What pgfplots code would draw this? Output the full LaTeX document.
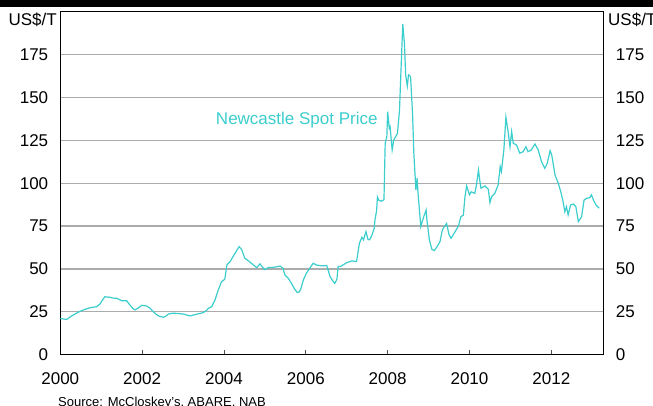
\documentclass[border=0pt]{standalone}
\usepackage{pgfplots}
\pgfplotsset{compat=1.18}
\usepackage{fontspec}
\setmainfont{Liberation Sans}
\definecolor{coal}{RGB}{60,205,205}
\definecolor{gridc}{RGB}{172,172,172}
\pgfplotstableread{
x y
2000.00 21.2
2000.08 20.8
2000.16 20.6
2000.24 22.0
2000.32 23.2
2000.44 24.8
2000.56 26.1
2000.65 26.8
2000.73 27.4
2000.89 28.0
2000.97 29.6
2001.05 32.5
2001.09 33.8
2001.21 33.5
2001.30 33.0
2001.38 32.9
2001.50 31.5
2001.62 31.5
2001.70 29.0
2001.77 27.0
2001.83 26.1
2001.92 27.5
2001.99 28.8
2002.11 28.4
2002.20 27.0
2002.27 25.1
2002.33 23.8
2002.40 22.6
2002.52 21.8
2002.58 22.5
2002.64 23.7
2002.74 24.2
2002.84 24.1
2003.01 23.7
2003.17 22.6
2003.33 23.6
2003.49 24.5
2003.58 26.0
2003.62 27.1
2003.70 28.0
2003.78 31.9
2003.86 37.7
2003.94 42.6
2004.02 44.0
2004.05 49.0
2004.07 52.3
2004.15 54.3
2004.23 57.6
2004.31 60.7
2004.37 63.0
2004.43 61.5
2004.51 56.2
2004.60 54.7
2004.66 53.5
2004.72 52.3
2004.80 50.8
2004.88 53.0
2004.94 51.0
2005.00 49.6
2005.08 50.8
2005.13 50.8
2005.21 51.0
2005.30 51.3
2005.37 51.7
2005.44 50.5
2005.49 46.5
2005.57 44.6
2005.65 41.6
2005.72 38.5
2005.79 36.3
2005.84 36.6
2005.88 38.5
2005.94 43.6
2006.02 47.8
2006.08 49.8
2006.14 52.0
2006.18 53.3
2006.26 52.3
2006.39 51.8
2006.51 52.0
2006.55 49.0
2006.59 45.7
2006.66 43.0
2006.71 41.6
2006.76 44.0
2006.79 51.4
2006.84 51.4
2006.92 52.5
2007.00 53.7
2007.08 54.3
2007.12 54.7
2007.24 54.3
2007.31 65.0
2007.37 68.5
2007.41 67.0
2007.47 71.8
2007.52 67.2
2007.56 67.0
2007.62 70.0
2007.67 73.5
2007.69 78.6
2007.73 84.0
2007.75 92.0
2007.78 90.2
2007.84 89.5
2007.91 90.4
2007.94 123.3
2007.98 127.2
2008.00 141.8
2008.04 132.1
2008.06 133.0
2008.11 119.4
2008.15 125.2
2008.24 129.1
2008.29 142.7
2008.32 162.2
2008.37 192.9
2008.41 181.6
2008.44 163.2
2008.48 156.7
2008.51 163.2
2008.56 162.2
2008.61 139.8
2008.64 117.5
2008.69 96.1
2008.72 102.9
2008.74 95.1
2008.81 74.7
2008.87 79.6
2008.94 84.4
2008.96 78.6
2009.02 66.9
2009.08 61.5
2009.14 60.7
2009.20 62.7
2009.28 66.0
2009.33 72.0
2009.36 73.7
2009.44 76.6
2009.50 70.0
2009.55 67.9
2009.65 71.8
2009.73 75.0
2009.79 80.5
2009.85 81.4
2009.89 92.2
2009.93 98.4
2010.00 93.2
2010.04 95.0
2010.13 94.1
2010.17 99.0
2010.22 107.7
2010.25 101.9
2010.28 97.1
2010.38 98.4
2010.46 96.5
2010.50 88.7
2010.54 92.2
2010.62 94.1
2010.70 99.0
2010.75 109.7
2010.78 106.8
2010.84 119.4
2010.89 138.5
2010.95 129.1
2010.99 121.3
2011.03 130.1
2011.07 123.3
2011.15 122.3
2011.23 117.5
2011.31 118.4
2011.38 121.3
2011.43 118.4
2011.51 119.4
2011.60 122.9
2011.68 119.4
2011.76 112.6
2011.84 108.7
2011.90 111.6
2011.97 119.0
2012.01 116.5
2012.09 104.8
2012.17 100.0
2012.23 95.1
2012.28 90.2
2012.33 83.4
2012.37 86.3
2012.41 81.5
2012.47 87.3
2012.54 87.9
2012.60 86.3
2012.66 77.6
2012.74 80.5
2012.80 90.2
2012.86 91.2
2012.94 91.6
2012.98 93.2
2013.03 90.2
2013.09 87.3
2013.17 85.4
}\coaldata
\begin{document}
\begin{tikzpicture}[x=1pt,y=1pt]
\useasboundingbox (0,0) rectangle (653,406);
\fill[black] (0,399) rectangle (653,406);
\begin{axis}[
  at={(60.3pt,51.3pt)}, anchor=south west,
  scale only axis, width=543.4pt, height=342.9pt,
  xmin=2000, xmax=2013.28, ymin=0, ymax=200,
  xtick={2000,2002,2004,2006,2008,2010,2012},
  xticklabels={2000,2002,2004,2006,2008,2010,2012},
  ytick={0,25,50,75,100,125,150,175},
  xtick pos=bottom, tick align=inside,
  major tick length=5pt,
  x tick style={color=black!70, line width=0.9pt},
  y tick style={draw=none},
  ymajorgrids, grid style={gridc, line width=1.3pt},
  axis line style={black, line width=1pt},
  ticklabel style={font=\fontsize{17}{20}\selectfont},
  /pgf/number format/assume math mode=true,
  xticklabel style={yshift=-14.5pt},
  yticklabel style={xshift=-8.6pt},
  clip=false,
]
\addplot[coal, line width=1.2pt] table[x=x,y=y] {\coaldata};
\node[anchor=base west, text=coal, font=\fontsize{17}{20}\selectfont, inner sep=0pt] at (axis cs:2003.80,134) {Newcastle Spot Price};
\end{axis}
\begin{axis}[
  at={(60.3pt,51.3pt)}, anchor=south west,
  scale only axis, width=543.4pt, height=342.9pt,
  xmin=2000, xmax=2013.28, ymin=0, ymax=200,
  axis x line=none, axis y line*=right,
  ytick={0,25,50,75,100,125,150,175},
  y tick style={draw=none},
  axis line style={black, line width=1pt},
  ticklabel style={font=\fontsize{17}{20}\selectfont},
  /pgf/number format/assume math mode=true,
  yticklabel style={xshift=8.6pt},
]
\end{axis}
\node[anchor=base east, inner sep=0pt, font=\fontsize{17}{20}\selectfont] at (57,380) {US\$/T};
\node[anchor=base west, inner sep=0pt, font=\fontsize{17}{20}\selectfont] at (608,380) {US\$/T};
\node[anchor=base west, inner sep=0pt, font=\fontsize{13}{15}\selectfont] at (58,-0.5) {Source: McCloskey's, ABARE, NAB};
\end{tikzpicture}
\end{document}
